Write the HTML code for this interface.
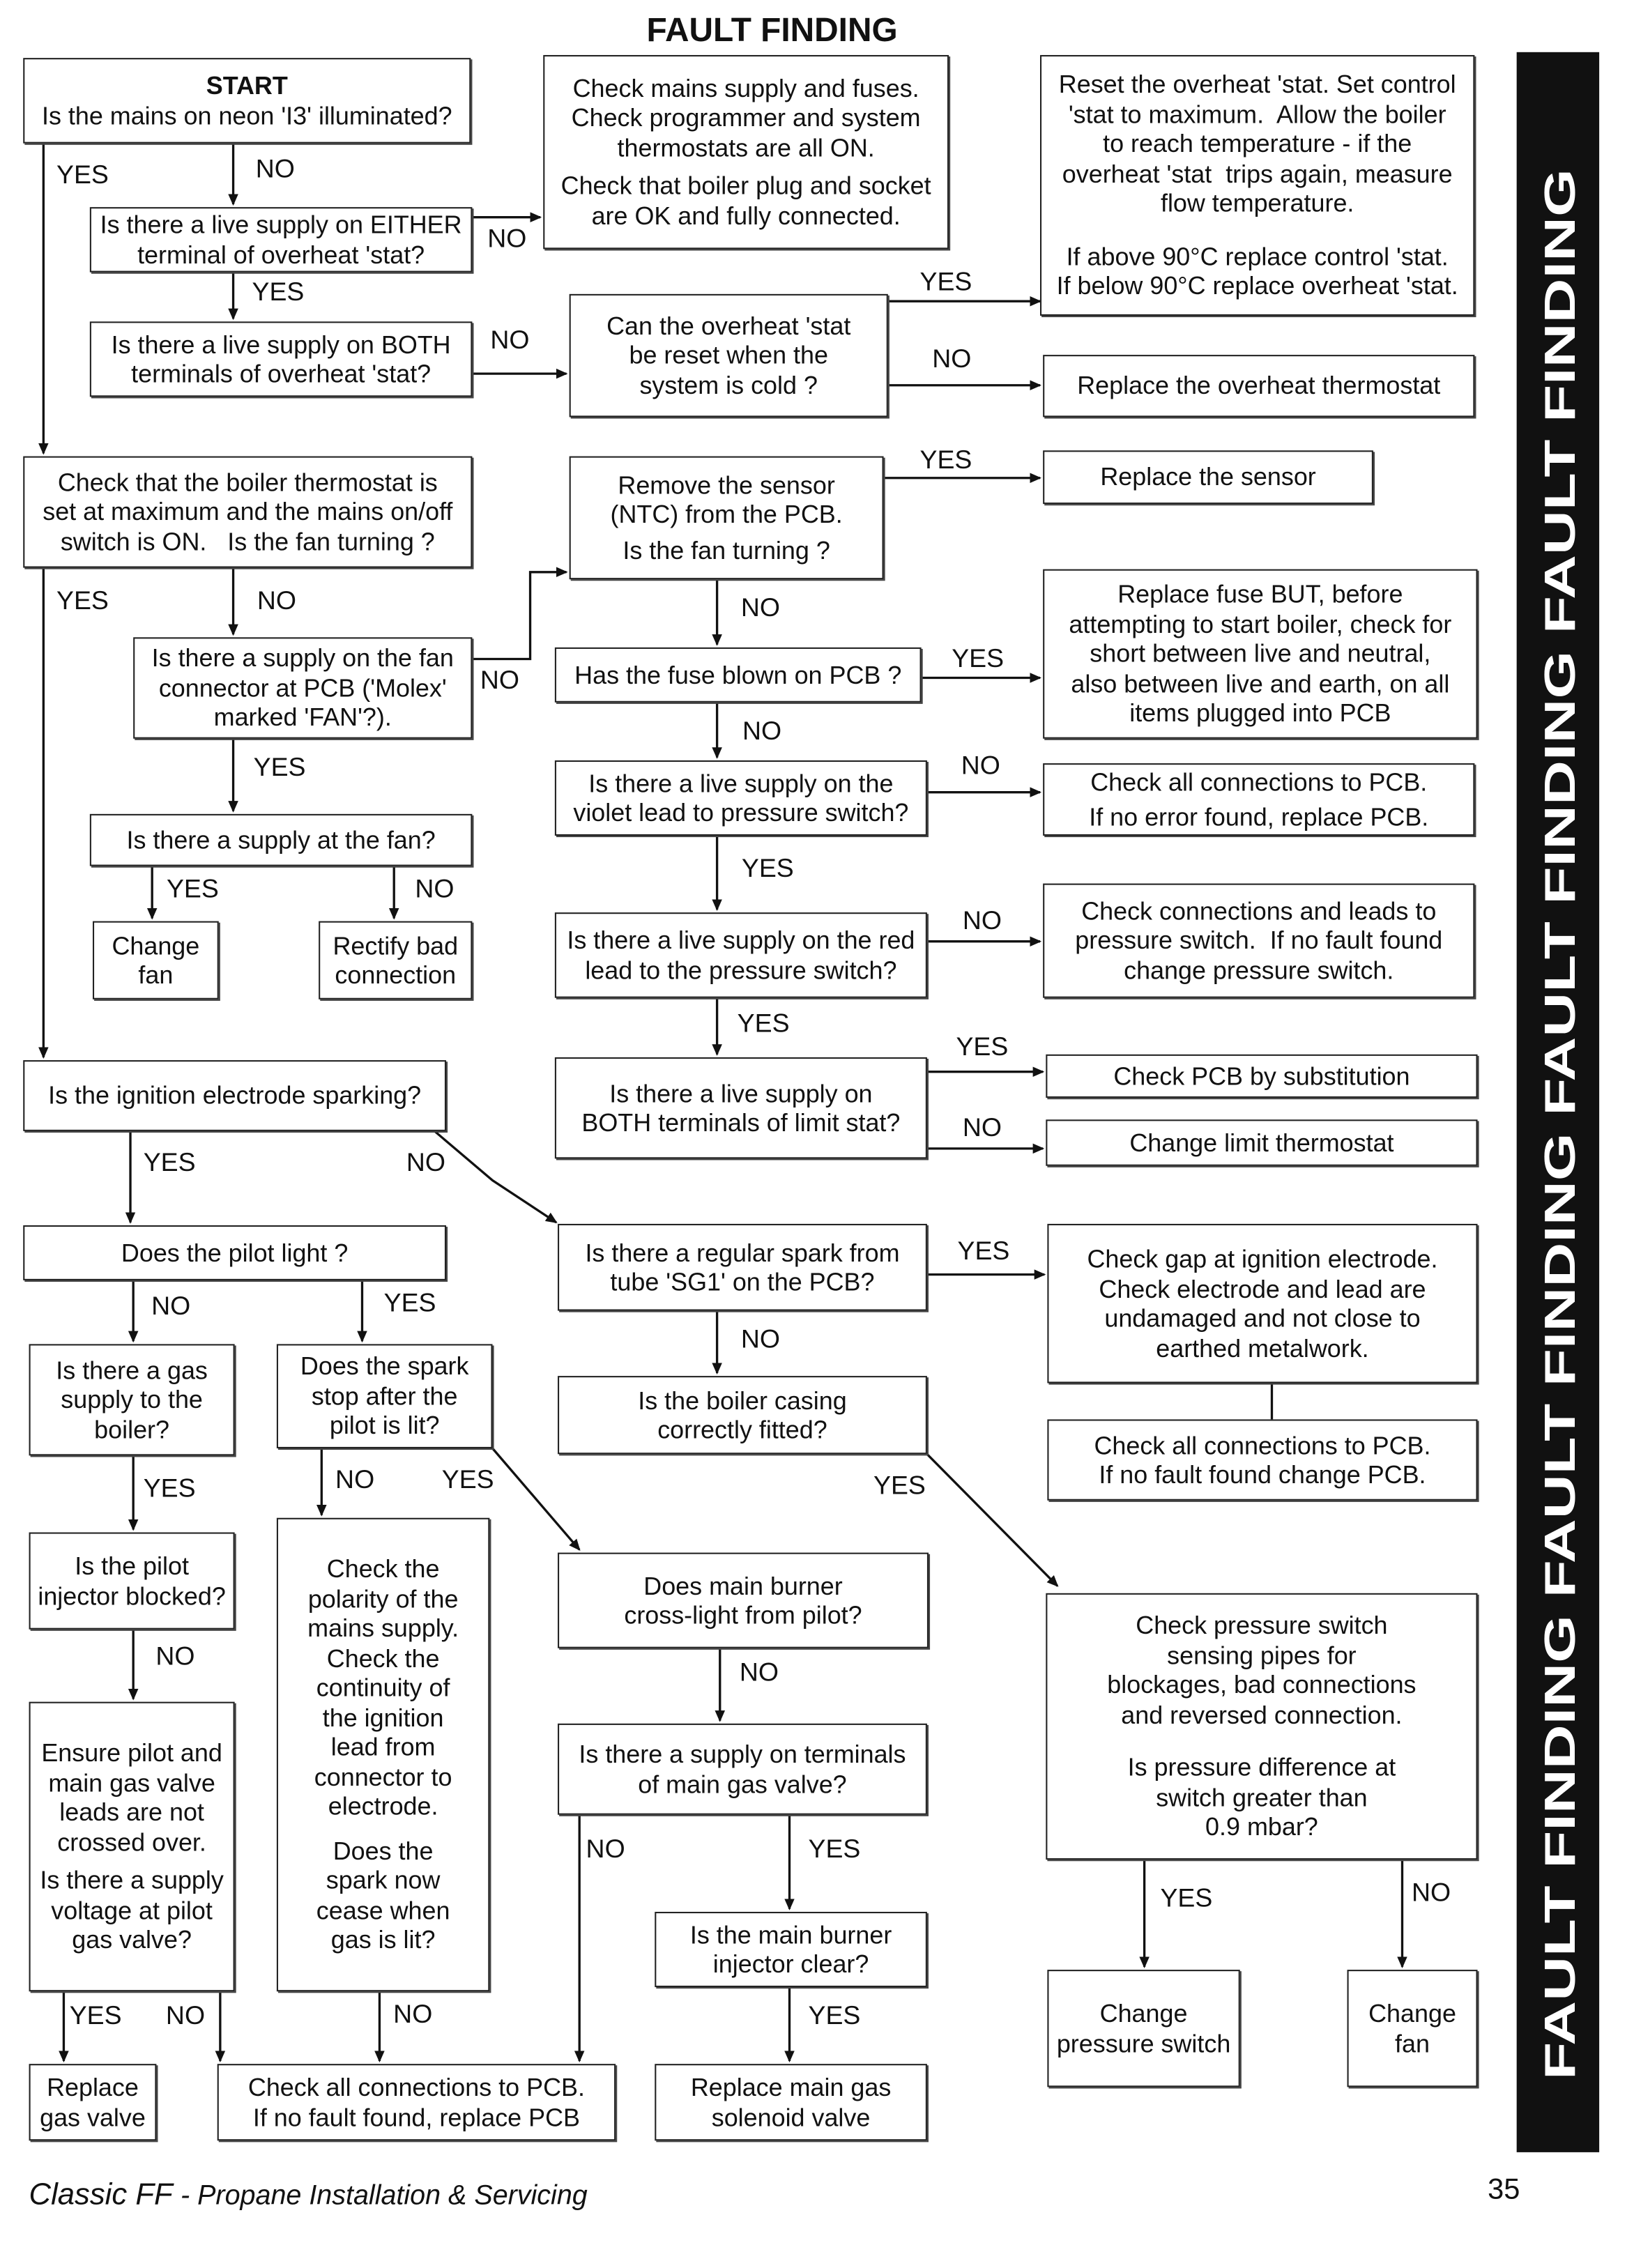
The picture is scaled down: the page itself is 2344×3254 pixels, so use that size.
<!DOCTYPE html>
<html><head><meta charset="utf-8"><style>
html,body{margin:0;padding:0;background:#fff;}
#wrap{width:2344px;height:3254px;overflow:hidden;position:relative;background:#fff;}
#c{position:absolute;left:0;top:0;width:1128px;height:1566px;transform:scale(2.078);transform-origin:0 0;font-family:"Liberation Sans",Arial,sans-serif;color:#111;}
.b{position:absolute;box-sizing:border-box;border:1.6px solid #222;box-shadow:1px 1px 0 #444;background:#fff;display:flex;align-items:center;justify-content:center;text-align:center;font-size:17.3px;line-height:20.5px;white-space:nowrap;}
.l{position:absolute;font-size:18px;transform:translate(-50%,-50%);white-space:nowrap;}
svg{position:absolute;left:0;top:0;}
</style></head><body><div id="wrap"><div id="c">
<svg width="1128" height="1566" viewBox="0 0 1128 1566">
<defs><marker id="a" markerWidth="8" markerHeight="8" refX="7" refY="4" orient="auto" markerUnits="userSpaceOnUse"><path d="M0,0.5 L8,4 L0,7.5 z" fill="#111"/></marker></defs>
<g stroke="#111" stroke-width="1.6" fill="none">
<path d="M30,99 V313" marker-end="url(#a)"/>
<path d="M30,392 V730" marker-end="url(#a)"/>
<path d="M161,99 V141" marker-end="url(#a)"/>
<path d="M326,150 H373" marker-end="url(#a)"/>
<path d="M161,188 V220" marker-end="url(#a)"/>
<path d="M326,258 H391" marker-end="url(#a)"/>
<path d="M613,208 H718" marker-end="url(#a)"/>
<path d="M613,266 H718" marker-end="url(#a)"/>
<path d="M161,392 V438" marker-end="url(#a)"/>
<path d="M326,455 H366 V395 H391" marker-end="url(#a)"/>
<path d="M610,330 H718" marker-end="url(#a)"/>
<path d="M495,400 V445" marker-end="url(#a)"/>
<path d="M636,468 H718" marker-end="url(#a)"/>
<path d="M495,485 V523" marker-end="url(#a)"/>
<path d="M640,547 H718" marker-end="url(#a)"/>
<path d="M495,577 V628" marker-end="url(#a)"/>
<path d="M640,650 H718" marker-end="url(#a)"/>
<path d="M495,689 V728" marker-end="url(#a)"/>
<path d="M640,740 H720" marker-end="url(#a)"/>
<path d="M640,793 H720" marker-end="url(#a)"/>
<path d="M161,510 V560" marker-end="url(#a)"/>
<path d="M105,598 V634" marker-end="url(#a)"/>
<path d="M272,598 V634" marker-end="url(#a)"/>
<path d="M90,781 V844" marker-end="url(#a)"/>
<path d="M300,781 L340,815 L384,844" marker-end="url(#a)"/>
<path d="M640,880 H721" marker-end="url(#a)"/>
<path d="M495,905 V948" marker-end="url(#a)"/>
<path d="M878,955 V980"/>
<path d="M640,1004 L730,1095" marker-end="url(#a)"/>
<path d="M92,884 V926" marker-end="url(#a)"/>
<path d="M250,884 V926" marker-end="url(#a)"/>
<path d="M92,1005 V1056" marker-end="url(#a)"/>
<path d="M222,1000 V1046" marker-end="url(#a)"/>
<path d="M340,1000 L400,1070" marker-end="url(#a)"/>
<path d="M92,1125 V1173" marker-end="url(#a)"/>
<path d="M497,1138 V1188" marker-end="url(#a)"/>
<path d="M545,1253 V1318" marker-end="url(#a)"/>
<path d="M400,1253 V1423" marker-end="url(#a)"/>
<path d="M790,1284 V1358" marker-end="url(#a)"/>
<path d="M968,1284 V1358" marker-end="url(#a)"/>
<path d="M44,1375 V1423" marker-end="url(#a)"/>
<path d="M152,1375 V1423" marker-end="url(#a)"/>
<path d="M262,1375 V1423" marker-end="url(#a)"/>
<path d="M545,1372 V1423" marker-end="url(#a)"/>
</g>
<rect x="1047" y="36" width="57" height="1450" fill="#111"/>
<text x="0" y="0" transform="translate(1087 1436) rotate(-90) scale(1.42 1)" fill="#fff" font-family="Liberation Sans,Arial,sans-serif" font-weight="bold" font-size="30">FAULT FINDING FAULT FINDING FAULT FINDING FAULT FINDING</text>
</svg>
<div class="l" style="left:533px;top:21px;font-weight:bold;font-size:23px;">FAULT FINDING</div>

<div class="b" style="left:16px;top:40px;width:309px;height:59px;"><div><b>START</b><br>Is the mains on neon 'I3' illuminated?</div></div>
<div class="b" style="left:375px;top:38px;width:280px;height:134px;"><div>Check mains supply and fuses.<br>Check programmer and system<br>thermostats are all ON.<div style="height:6px"></div>Check that boiler plug and socket<br>are OK and fully connected.</div></div>
<div class="b" style="left:718px;top:38px;width:300px;height:180px;"><div>Reset the overheat 'stat. Set control<br>'stat to maximum.&nbsp; Allow the boiler<br>to reach temperature - if the<br>overheat 'stat&nbsp; trips again, measure<br>flow temperature.<div style="height:16px"></div>If above 90°C replace control 'stat.<br>If below 90°C replace overheat 'stat.</div></div>
<div class="b" style="left:62px;top:143px;width:264px;height:45px;"><div>Is there a live supply on EITHER<br>terminal of overheat 'stat?</div></div>
<div class="b" style="left:62px;top:222px;width:264px;height:52px;"><div>Is there a live supply on BOTH<br>terminals of overheat 'stat?</div></div>
<div class="b" style="left:393px;top:203px;width:220px;height:85px;"><div>Can the overheat 'stat<br>be reset when the<br>system is cold ?</div></div>
<div class="b" style="left:720px;top:245px;width:298px;height:43px;"><div>Replace the overheat thermostat</div></div>
<div class="b" style="left:16px;top:315px;width:310px;height:77px;"><div>Check that the boiler thermostat is<br>set at maximum and the mains on/off<br>switch is ON.&nbsp;&nbsp; Is the fan turning ?</div></div>
<div class="b" style="left:393px;top:315px;width:217px;height:85px;"><div>Remove the sensor<br>(NTC) from the PCB.<div style="height:4px"></div>Is the fan turning ?</div></div>
<div class="b" style="left:720px;top:311px;width:228px;height:37px;"><div>Replace the sensor</div></div>
<div class="b" style="left:92px;top:440px;width:234px;height:70px;"><div>Is there a supply on the fan<br>connector at PCB ('Molex'<br>marked 'FAN'?).</div></div>
<div class="b" style="left:383px;top:447px;width:253px;height:38px;"><div>Has the fuse blown on PCB ?</div></div>
<div class="b" style="left:720px;top:393px;width:300px;height:117px;"><div>Replace fuse BUT, before<br>attempting to start boiler, check for<br>short between live and neutral,<br>also between live and earth, on all<br>items plugged into PCB</div></div>
<div class="b" style="left:383px;top:525px;width:257px;height:52px;"><div>Is there a live supply on the<br>violet lead to pressure switch?</div></div>
<div class="b" style="left:720px;top:527px;width:298px;height:50px;"><div>Check all connections to PCB.<div style="height:4px"></div>If no error found, replace PCB.</div></div>
<div class="b" style="left:62px;top:562px;width:264px;height:36px;"><div>Is there a supply at the fan?</div></div>
<div class="b" style="left:64px;top:636px;width:87px;height:54px;"><div>Change<br>fan</div></div>
<div class="b" style="left:220px;top:636px;width:106px;height:54px;"><div>Rectify bad<br>connection</div></div>
<div class="b" style="left:383px;top:630px;width:257px;height:59px;"><div>Is there a live supply on the red<br>lead to the pressure switch?</div></div>
<div class="b" style="left:720px;top:610px;width:298px;height:79px;"><div>Check connections and leads to<br>pressure switch.&nbsp; If no fault found<br>change pressure switch.</div></div>
<div class="b" style="left:383px;top:730px;width:257px;height:70px;"><div>Is there a live supply on<br>BOTH terminals of limit stat?</div></div>
<div class="b" style="left:722px;top:728px;width:298px;height:30px;"><div>Check PCB by substitution</div></div>
<div class="b" style="left:722px;top:773px;width:298px;height:32px;"><div>Change limit thermostat</div></div>
<div class="b" style="left:16px;top:732px;width:292px;height:49px;"><div>Is the ignition electrode sparking?</div></div>
<div class="b" style="left:16px;top:846px;width:292px;height:38px;"><div>Does the pilot light ?</div></div>
<div class="b" style="left:385px;top:845px;width:255px;height:60px;"><div>Is there a regular spark from<br>tube 'SG1' on the PCB?</div></div>
<div class="b" style="left:723px;top:845px;width:297px;height:110px;"><div>Check gap at ignition electrode.<br>Check electrode and lead are<br>undamaged and not close to<br>earthed metalwork.</div></div>
<div class="b" style="left:20px;top:928px;width:142px;height:77px;"><div>Is there a gas<br>supply to the<br>boiler?</div></div>
<div class="b" style="left:191px;top:928px;width:149px;height:72px;"><div>Does the spark<br>stop after the<br>pilot is lit?</div></div>
<div class="b" style="left:385px;top:950px;width:255px;height:54px;"><div>Is the boiler casing<br>correctly fitted?</div></div>
<div class="b" style="left:723px;top:980px;width:297px;height:56px;"><div>Check all connections to PCB.<br>If no fault found change PCB.</div></div>
<div class="b" style="left:20px;top:1058px;width:142px;height:67px;"><div>Is the pilot<br>injector blocked?</div></div>
<div class="b" style="left:191px;top:1048px;width:147px;height:327px;"><div>Check the<br>polarity of the<br>mains supply.<br>Check the<br>continuity of<br>the ignition<br>lead from<br>connector to<br>electrode.<div style="height:10px"></div>Does the<br>spark now<br>cease when<br>gas is lit?</div></div>
<div class="b" style="left:385px;top:1072px;width:256px;height:66px;"><div>Does main burner<br>cross-light from pilot?</div></div>
<div class="b" style="left:722px;top:1100px;width:298px;height:184px;"><div>Check pressure switch<br>sensing pipes for<br>blockages, bad connections<br>and reversed connection.<div style="height:16px"></div>Is pressure difference at<br>switch greater than<br>0.9 mbar?</div></div>
<div class="b" style="left:20px;top:1175px;width:142px;height:200px;"><div>Ensure pilot and<br>main gas valve<br>leads are not<br>crossed over.<div style="height:6px"></div>Is there a supply<br>voltage at pilot<br>gas valve?</div></div>
<div class="b" style="left:385px;top:1190px;width:255px;height:63px;"><div>Is there a supply on terminals<br>of main gas valve?</div></div>
<div class="b" style="left:452px;top:1320px;width:188px;height:52px;"><div>Is the main burner<br>injector clear?</div></div>
<div class="b" style="left:723px;top:1360px;width:133px;height:81px;"><div>Change<br>pressure switch</div></div>
<div class="b" style="left:930px;top:1360px;width:90px;height:81px;"><div>Change<br>fan</div></div>
<div class="b" style="left:20px;top:1425px;width:88px;height:53px;"><div>Replace<br>gas valve</div></div>
<div class="b" style="left:150px;top:1425px;width:275px;height:53px;"><div>Check all connections to PCB.<br>If no fault found, replace PCB</div></div>
<div class="b" style="left:452px;top:1425px;width:188px;height:53px;"><div>Replace main gas<br>solenoid valve</div></div>

<div class="l" style="left:57px;top:121px">YES</div>
<div class="l" style="left:190px;top:117px">NO</div>
<div class="l" style="left:350px;top:165px">NO</div>
<div class="l" style="left:192px;top:202px">YES</div>
<div class="l" style="left:352px;top:235px">NO</div>
<div class="l" style="left:653px;top:195px">YES</div>
<div class="l" style="left:657px;top:248px">NO</div>
<div class="l" style="left:57px;top:415px">YES</div>
<div class="l" style="left:191px;top:415px">NO</div>
<div class="l" style="left:345px;top:470px">NO</div>
<div class="l" style="left:653px;top:318px">YES</div>
<div class="l" style="left:525px;top:420px">NO</div>
<div class="l" style="left:675px;top:455px">YES</div>
<div class="l" style="left:526px;top:505px">NO</div>
<div class="l" style="left:677px;top:529px">NO</div>
<div class="l" style="left:530px;top:600px">YES</div>
<div class="l" style="left:678px;top:636px">NO</div>
<div class="l" style="left:527px;top:707px">YES</div>
<div class="l" style="left:678px;top:723px">YES</div>
<div class="l" style="left:678px;top:779px">NO</div>
<div class="l" style="left:193px;top:530px">YES</div>
<div class="l" style="left:133px;top:614px">YES</div>
<div class="l" style="left:300px;top:614px">NO</div>
<div class="l" style="left:117px;top:803px">YES</div>
<div class="l" style="left:294px;top:803px">NO</div>
<div class="l" style="left:679px;top:864px">YES</div>
<div class="l" style="left:525px;top:925px">NO</div>
<div class="l" style="left:621px;top:1026px">YES</div>
<div class="l" style="left:118px;top:902px">NO</div>
<div class="l" style="left:283px;top:900px">YES</div>
<div class="l" style="left:117px;top:1028px">YES</div>
<div class="l" style="left:245px;top:1022px">NO</div>
<div class="l" style="left:323px;top:1022px">YES</div>
<div class="l" style="left:121px;top:1144px">NO</div>
<div class="l" style="left:524px;top:1155px">NO</div>
<div class="l" style="left:576px;top:1277px">YES</div>
<div class="l" style="left:418px;top:1277px">NO</div>
<div class="l" style="left:819px;top:1311px">YES</div>
<div class="l" style="left:988px;top:1307px">NO</div>
<div class="l" style="left:66px;top:1392px">YES</div>
<div class="l" style="left:128px;top:1392px">NO</div>
<div class="l" style="left:285px;top:1391px">NO</div>
<div class="l" style="left:576px;top:1392px">YES</div>

<div style="position:absolute;left:20px;top:1504px;font-size:21px;font-style:italic;white-space:nowrap;">Classic FF <span style="font-size:19px">- Propane Installation &amp; Servicing</span></div>
<div style="position:absolute;left:1027px;top:1501px;font-size:20px;">35</div>
</div></div></body></html>
